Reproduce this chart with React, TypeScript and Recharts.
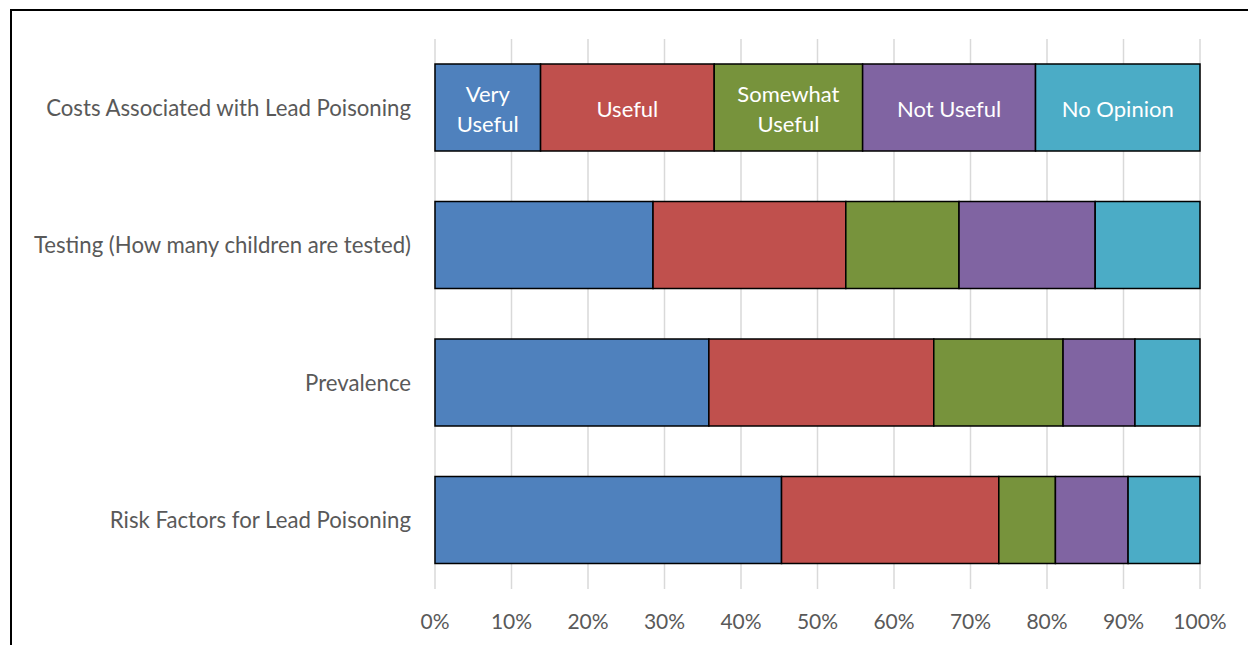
import { Bar, BarChart, CartesianGrid, LabelList, XAxis, YAxis } from "recharts"

const categories = [
  "Costs Associated with Lead Poisoning",
  "Testing (How many children are tested)",
  "Prevalence",
  "Risk Factors for Lead Poisoning",
]

const veryUseful = [13.8, 28.5, 35.8, 45.3]
const useful = [22.7, 25.2, 29.4, 28.4]
const somewhatUseful = [19.4, 14.8, 16.9, 7.4]
const notUseful = [22.6, 17.8, 9.4, 9.5]
const noOpinion = [21.5, 13.7, 8.5, 9.4]

const percentTicks = [0, 10, 20, 30, 40, 50, 60, 70, 80, 90, 100]

const series = [
  { key: "veryUseful", label: ["Very", "Useful"], color: "#4F81BD", values: veryUseful },
  { key: "useful", label: ["Useful"], color: "#C0504D", values: useful },
  { key: "somewhatUseful", label: ["Somewhat", "Useful"], color: "#77933C", values: somewhatUseful },
  { key: "notUseful", label: ["Not Useful"], color: "#8064A2", values: notUseful },
  { key: "noOpinion", label: ["No Opinion"], color: "#4BACC6", values: noOpinion },
]

const data = categories.map((name, i) => {
  const row: Record<string, string | number> = { name }
  series.forEach((s) => {
    row[s.key] = s.values[i]
  })
  return row
})

const FONT = "Lato, 'Open Sans', sans-serif"
const TEXT = "#595959"

// white series-name labels, drawn only inside the first bar
function seriesLabel(lines: string[]) {
  return (props: any) => {
    const { x, y, width, height, index } = props
    if (index !== 0) return null
    const cx = Number(x) + Number(width) / 2
    const cy = Number(y) + Number(height) / 2
    const lh = 30
    const top = cy - ((lines.length - 1) * lh) / 2
    return (
      <text
        x={cx}
        y={top}
        fill="#fff"
        fontSize={22}
        fontFamily={FONT}
        textAnchor="middle"
        dominantBaseline="central"
      >
        {lines.map((l, k) => (
          <tspan key={k} x={cx} y={top + k * lh}>
            {l}
          </tspan>
        ))}
      </text>
    )
  }
}

export default function App() {
  return (
    <div
      style={{
        position: "fixed",
        left: 0,
        top: 0,
        width: 1248,
        height: 645,
        overflow: "hidden",
        background: "#fff",
      }}
    >
      <div
        style={{
          position: "absolute",
          left: 10,
          top: 9,
          width: 1300,
          height: 700,
          border: "2px solid #000",
        }}
      />
      <div style={{ position: "absolute", left: 0, top: 0 }}>
        <BarChart
          width={1248}
          height={645}
          data={data}
          layout="vertical"
          margin={{ top: 39, right: 48, bottom: 0, left: 0 }}
        >
          <CartesianGrid
            horizontal={false}
            stroke="#D9D9D9"
            strokeWidth={1.5}
          />
          <XAxis
            type="number"
            domain={[0, 100]}
            ticks={percentTicks}
            tickFormatter={(v) => `${v}%`}
            axisLine={false}
            tickLine={false}
            tickSize={0}
            tickMargin={25}
            height={56}
            interval={0}
            tick={{ fill: TEXT, fontSize: 21, fontFamily: FONT }}
          />
          <YAxis
            type="category"
            dataKey="name"
            width={435}
            axisLine={false}
            tickLine={false}
            tickSize={0}
            tickMargin={24}
            interval={0}
            tick={{ fill: TEXT, fontSize: 22.2, fontFamily: FONT }}
          />
          {series.map((s) => (
            <Bar
              key={s.key}
              dataKey={s.key}
              stackId="a"
              fill={s.color}
              stroke="#000"
              strokeWidth={1.5}
              barSize={87}
              isAnimationActive={false}
            >
              <LabelList dataKey={s.key} content={seriesLabel(s.label)} />
            </Bar>
          ))}
        </BarChart>
      </div>
    </div>
  )
}
